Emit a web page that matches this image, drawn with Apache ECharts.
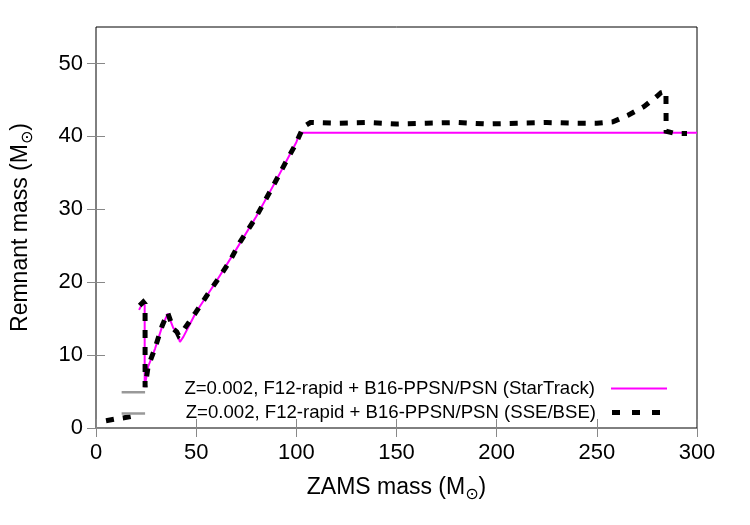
<!DOCTYPE html>
<html>
<head>
<meta charset="utf-8">
<script src="https://cdn.jsdelivr.net/npm/echarts@6/dist/echarts.min.js"></script>
<style>html,body{margin:0;padding:0;background:#fff}#c{width:750px;height:525px}</style>
</head>
<body>
<div id="c"></div>
<script>
// StarTrack curve (magenta)
const stX = [21.5, 23.6, 24.3, 24.3, 26, 29.5, 33, 35.8, 38.6, 40.2, 41.9, 43.6, 50, 60, 70, 80, 90, 100, 101.8, 300];
const stY = [16.2, 17.3, 16.9, 5.6, 8.4, 10.9, 13.9, 15.7, 13.7, 13.3, 11.8, 12.5, 15.9, 20.1, 24.5, 29.0, 34.0, 39.2, 40.5, 40.5];
// SSE/BSE curve (black dashed); null = gap
const sseX = [5, 9, 14, 18, 20.8, 21, 21.8, 23.6, 24.5, 24.5, 26, 29.5, 33, 35.8, 38.6, 40.3, 41.2, 43.6, 49.4, 54.9, 61.1, 66.6, 71.9, 79.4, 84.4, 89.4, 94.4, 99.4, 103.5, 107, 120, 135, 150, 165, 180, 195, 210, 225, 240, 250, 258, 265.6, 273.6, 280, 282, 284.5, 284.6, 289, 295];
const sseY = [1.0, 1.2, 1.4, 1.6, 1.9, null, 16.8, 17.3, 17.0, 5.6, 8.4, 11.0, 14.0, 15.8, 13.6, 13.2, 12.7, 13.4, 15.7, 18.0, 20.5, 22.8, 25.5, 28.7, 31.2, 33.7, 36.3, 38.8, 41.3, 41.9, 41.8, 41.9, 41.7, 41.8, 41.9, 41.7, 41.8, 41.9, 41.8, 41.8, 42.0, 42.9, 44.1, 45.5, 46.0, 46.2, 40.7, 40.4, 40.4];
// grey marks
const grayX = [12.8, 24.5];
const grayY1 = [4.9, 4.9];
const grayY2 = [2.0, 2.0];
const xTicks = [0, 50, 100, 150, 200, 250, 300];
const yTicks = [0, 10, 20, 30, 40, 50];
const nameST = 'Z=0.002, F12-rapid + B16-PPSN/PSN (StarTrack)';
const nameSSE = 'Z=0.002, F12-rapid + B16-PPSN/PSN (SSE/BSE)';

const pairs = (xs, ys) => xs.map((x, i) => [x, ys[i] === null ? '-' : ys[i]]);
const FONT = 'Liberation Sans, Arial, DejaVu Sans, sans-serif';
const rich = { s: { fontSize: 16, fontFamily: 'DejaVu Sans', padding: [14, 0, 0, 0], color: '#000' } };

const chart = echarts.init(document.getElementById('c'), null, { renderer: 'canvas' });
const tickX = { show: true, inside: true, length: 9, customValues: xTicks, lineStyle: { color: '#888', width: 1 } };
const tickY = { show: true, inside: true, length: 9, customValues: yTicks, lineStyle: { color: '#888', width: 1 } };
const legendText = { fontSize: 18.6, color: '#000', fontFamily: FONT, padding: [0, 11, 0, 0] };
chart.setOption({
  animation: false,
  textStyle: { fontFamily: FONT },
  grid: { left: 96, right: 53, top: 27, bottom: 97, show: true, borderColor: '#000', borderWidth: 1, backgroundColor: 'transparent' },
  legend: [
    { data: [nameST], right: 82, top: 379, align: 'right', itemWidth: 56, itemHeight: 12, selectedMode: false, padding: 0,
      itemStyle: { opacity: 0 }, textStyle: legendText },
    { data: [{ name: nameSSE, icon: 'path://M0,0h8v5h-8z M20,0h8v5h-8z M40,0h8v5h-8z' }],
      right: 90, top: 403, align: 'right', itemWidth: 48, itemHeight: 5, selectedMode: false, padding: 0,
      itemStyle: { color: '#000', opacity: 1 }, textStyle: legendText }
  ],
  xAxis: [
    { type: 'value', min: xTicks[0], max: xTicks[xTicks.length - 1], interval: 50,
      name: 'ZAMS mass (M{s|⊙})', nameLocation: 'middle', nameGap: 45,
      nameTextStyle: { fontSize: 23, color: '#000', fontFamily: FONT, rich: rich },
      axisLine: { show: false }, axisTick: tickX, splitLine: { show: false },
      axisLabel: { fontSize: 22, color: '#000', margin: 14, fontFamily: FONT } },
    { type: 'value', position: 'top', min: 0, max: 300, interval: 50,
      axisLine: { show: false }, axisTick: tickX, splitLine: { show: false }, axisLabel: { show: false } }
  ],
  yAxis: [
    { type: 'value', min: yTicks[0], max: 55, interval: 10,
      name: 'Remnant mass (M{s|⊙})', nameLocation: 'middle', nameGap: 60,
      nameTextStyle: { fontSize: 23, color: '#000', fontFamily: FONT, rich: rich },
      axisLine: { show: false }, axisTick: tickY, splitLine: { show: false },
      axisLabel: { fontSize: 22, color: '#000', margin: 13, fontFamily: FONT, customValues: yTicks } },
    { type: 'value', position: 'right', min: 0, max: 55, interval: 10,
      axisLine: { show: false }, axisTick: tickY, splitLine: { show: false }, axisLabel: { show: false } }
  ],
  series: [
    { name: nameST, type: 'line', data: pairs(stX, stY), showSymbol: false, symbol: 'none',
      lineStyle: { color: '#ff00ff', width: 2 }, itemStyle: { color: '#ff00ff' }, z: 2 },
    { name: nameSSE, type: 'line', data: pairs(sseX, sseY), showSymbol: false, symbol: 'none', connectNulls: false,
      lineStyle: { color: '#000', width: 5, type: [8, 9], cap: 'butt', join: 'miter' }, itemStyle: { color: '#000' }, z: 3 },
    { name: 'g1', type: 'line', data: pairs(grayX, grayY1), showSymbol: false, symbol: 'none',
      lineStyle: { color: '#999', width: 2.5 }, z: 4 },
    { name: 'g2', type: 'line', data: pairs(grayX, grayY2), showSymbol: false, symbol: 'none',
      lineStyle: { color: '#999', width: 2.5 }, z: 4 }
  ]
});
</script>
</body>
</html>
